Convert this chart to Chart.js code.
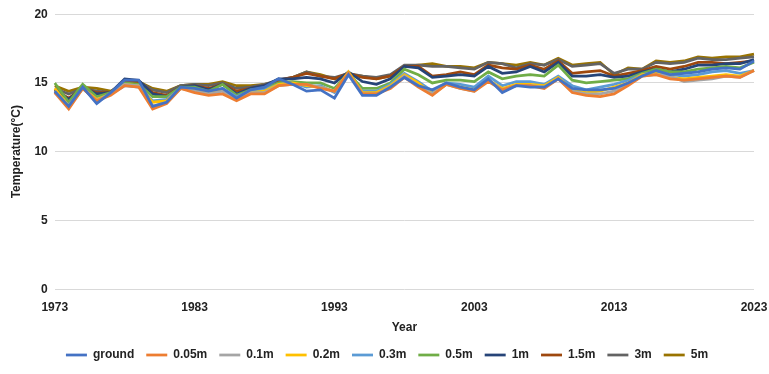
<!DOCTYPE html>
<html lang="en">
<head>
    <title>Temperature by depth</title>
    <script src="https://cdn.jsdelivr.net/npm/chart.js"></script>
    <style>
        body {
            margin: 0;
            padding: 0;
            background: white;
        }
        .chart-container {
            position: relative;
            width: 769px;
            height: 374px;
        }
    </style>
</head>
<body>
    <div class="chart-container">
        <canvas id="tempChart"></canvas>
    </div>

    <script>
        const years = [];
        for (let y = 1973; y <= 2023; y++) years.push(y);

        const seriesNames = ['ground', '0.05m', '0.1m', '0.2m', '0.3m', '0.5m', '1m', '1.5m', '3m', '5m'];
        const seriesColors = ['#4472C4', '#ED7D31', '#A5A5A5', '#FFC000', '#5B9BD5', '#70AD47', '#264478', '#9E480E', '#636363', '#997300'];
        const yTicks = [0, 5, 10, 15, 20];

        // values, 1973 → 2023
        const ground = [14.4, 13.3, 14.7, 13.5, 14.3, 15.2, 15.2, 13.3, 13.6, 14.7, 14.6, 14.4, 14.6, 13.9, 14.5, 14.7, 15.3, 14.9, 14.4, 14.5, 13.9, 15.6, 14.1, 14.1, 14.7, 15.4, 14.8, 14.5, 15.0, 14.7, 14.5, 15.3, 14.3, 14.8, 14.7, 14.7, 15.3, 14.6, 14.5, 14.5, 14.6, 15.0, 15.5, 15.9, 15.6, 15.7, 15.8, 16.0, 16.1, 16.0, 16.6];
        const d005 = [14.3, 13.1, 14.6, 13.7, 14.1, 14.8, 14.7, 13.1, 13.5, 14.6, 14.3, 14.1, 14.2, 13.7, 14.2, 14.2, 14.8, 14.9, 14.9, 14.6, 14.4, 15.7, 14.2, 14.2, 14.6, 15.4, 14.7, 14.1, 14.9, 14.6, 14.4, 15.1, 14.5, 14.8, 14.8, 14.6, 15.3, 14.3, 14.1, 14.0, 14.2, 14.8, 15.5, 15.6, 15.3, 15.2, 15.3, 15.4, 15.5, 15.4, 15.9];
        const d01 = [14.4, 13.2, 14.6, 13.7, 14.2, 14.9, 14.8, 13.3, 13.6, 14.6, 14.4, 14.2, 14.4, 13.8, 14.3, 14.3, 14.8, 14.9, 14.9, 14.7, 14.4, 15.7, 14.2, 14.2, 14.7, 15.5, 14.8, 14.2, 14.9, 14.6, 14.4, 15.2, 14.5, 14.8, 14.8, 14.7, 15.3, 14.4, 14.2, 14.2, 14.4, 14.9, 15.5, 15.6, 15.5, 15.1, 15.2, 15.3, 15.5, 15.4, 15.9];
        const d02 = [14.6, 13.3, 14.6, 13.8, 14.2, 14.9, 14.8, 13.6, 13.7, 14.6, 14.5, 14.2, 14.5, 13.9, 14.3, 14.4, 14.9, 15.0, 14.8, 14.7, 14.4, 15.8, 14.3, 14.3, 14.8, 15.6, 15.0, 14.2, 14.9, 14.7, 14.5, 15.2, 14.6, 14.9, 14.9, 14.8, 15.4, 14.5, 14.3, 14.4, 14.7, 15.0, 15.6, 15.7, 15.4, 15.3, 15.4, 15.5, 15.6, 15.5, 15.9];
        const d03 = [14.3, 13.4, 14.6, 13.8, 14.2, 14.8, 14.7, 13.7, 13.8, 14.6, 14.5, 14.3, 14.6, 14.0, 14.4, 14.5, 14.9, 15.0, 14.7, 14.8, 14.3, 15.6, 14.4, 14.4, 14.9, 15.7, 15.1, 14.4, 15.0, 14.9, 14.7, 15.5, 14.8, 15.1, 15.1, 14.9, 15.5, 14.8, 14.5, 14.7, 14.9, 15.2, 15.6, 15.8, 15.6, 15.5, 15.6, 15.8, 15.9, 15.7, 15.9];
        const d05 = [15.0, 13.6, 14.9, 14.0, 14.3, 15.0, 14.9, 14.0, 14.0, 14.7, 14.7, 14.4, 14.9, 14.1, 14.5, 14.6, 15.0, 15.1, 15.0, 15.0, 14.6, 15.7, 14.6, 14.6, 15.0, 16.0, 15.6, 15.0, 15.2, 15.2, 15.1, 15.8, 15.3, 15.5, 15.6, 15.5, 16.3, 15.2, 15.0, 15.1, 15.2, 15.3, 15.7, 16.0, 15.8, 15.8, 16.0, 16.1, 16.2, 16.1, 16.5];
        const d1 = [14.5, 13.8, 14.7, 14.2, 14.3, 15.3, 15.2, 14.2, 14.0, 14.7, 14.8, 14.5, 14.9, 14.2, 14.6, 14.8, 15.3, 15.3, 15.4, 15.3, 15.0, 15.8, 15.1, 14.9, 15.3, 16.2, 16.1, 15.4, 15.5, 15.6, 15.5, 16.2, 15.7, 15.8, 16.2, 15.8, 16.5, 15.5, 15.5, 15.6, 15.4, 15.5, 15.8, 16.0, 15.8, 16.0, 16.3, 16.3, 16.4, 16.4, 16.7];
        const d15 = [14.5, 13.9, 14.6, 14.3, 14.3, 15.1, 15.1, 14.3, 14.1, 14.7, 14.8, 14.6, 14.9, 14.4, 14.6, 14.8, 15.2, 15.4, 15.7, 15.5, 15.3, 15.7, 15.4, 15.3, 15.5, 16.2, 16.2, 15.5, 15.6, 15.8, 15.6, 16.3, 16.1, 16.0, 16.3, 16.0, 16.6, 15.7, 15.8, 15.9, 15.5, 15.7, 15.9, 16.2, 16.0, 16.2, 16.5, 16.5, 16.4, 16.5, 16.6];
        const d3 = [14.6, 14.2, 14.6, 14.4, 14.3, 15.1, 15.1, 14.5, 14.3, 14.8, 14.9, 14.8, 15.0, 14.6, 14.7, 14.9, 15.2, 15.4, 15.8, 15.5, 15.4, 15.7, 15.5, 15.4, 15.6, 16.3, 16.3, 16.2, 16.2, 16.1, 16.0, 16.5, 16.4, 16.1, 16.4, 16.3, 16.7, 16.2, 16.3, 16.4, 15.7, 16.0, 16.0, 16.5, 16.4, 16.5, 16.8, 16.7, 16.7, 16.8, 16.9];
        const d5 = [14.8, 14.4, 14.7, 14.6, 14.4, 15.0, 15.1, 14.6, 14.4, 14.8, 14.9, 14.9, 15.1, 14.8, 14.8, 14.9, 15.1, 15.4, 15.8, 15.6, 15.3, 15.6, 15.5, 15.3, 15.5, 16.2, 16.3, 16.4, 16.2, 16.2, 16.1, 16.5, 16.4, 16.3, 16.5, 16.3, 16.8, 16.3, 16.4, 16.5, 15.6, 16.1, 16.0, 16.6, 16.5, 16.6, 16.9, 16.8, 16.9, 16.9, 17.1];

        const seriesValues = [ground, d005, d01, d02, d03, d05, d1, d15, d3, d5];

        const axisFont = { family: "'Liberation Sans Narrow', 'Liberation Sans', Arial, sans-serif", size: 12, weight: 'bold' };

        new Chart(document.getElementById('tempChart'), {
            type: 'line',
            data: {
                labels: years,
                datasets: seriesNames.map((name, i) => ({
                    label: name,
                    data: seriesValues[i],
                    borderColor: seriesColors[i],
                    backgroundColor: seriesColors[i],
                    borderWidth: 2.75,
                    pointRadius: 0,
                    tension: 0
                }))
            },
            options: {
                responsive: true,
                maintainAspectRatio: false,
                animation: false,
                plugins: {
                    legend: {
                        position: 'bottom',
                        labels: {
                            usePointStyle: true,
                            pointStyle: 'line',
                            pointStyleWidth: 21,
                            padding: 12,
                            color: '#222',
                            font: axisFont
                        }
                    },
                    tooltip: { enabled: false }
                },
                scales: {
                    x: {
                        grid: { display: false, drawTicks: false },
                        border: { display: false },
                        // keep room for half of the last year label only
                        afterFit: scale => { scale.paddingRight = 15; },
                        ticks: {
                            autoSkip: false,
                            maxRotation: 0,
                            padding: 11,
                            color: '#222',
                            font: axisFont,
                            callback: function (val, idx) {
                                return (years[idx] - 1973) % 10 === 0 ? years[idx] : null;
                            }
                        },
                        title: {
                            display: true,
                            text: 'Year',
                            color: '#222',
                            font: axisFont,
                            padding: { top: -5, bottom: 2 }
                        }
                    },
                    y: {
                        min: yTicks[0],
                        max: yTicks[yTicks.length - 1],
                        afterBuildTicks: axis => { axis.ticks = yTicks.map(v => ({ value: v })); },
                        grid: { color: '#D9D9D9', drawTicks: false },
                        border: { display: false },
                        ticks: {
                            color: '#222',
                            font: axisFont,
                            padding: 7
                        },
                        title: {
                            display: true,
                            text: 'Temperature(°C)',
                            color: '#222',
                            font: axisFont
                        }
                    }
                },
                layout: {
                    padding: { left: 5, right: 0, top: 1, bottom: 3 }
                }
            }
        });
    </script>
</body>
</html>
